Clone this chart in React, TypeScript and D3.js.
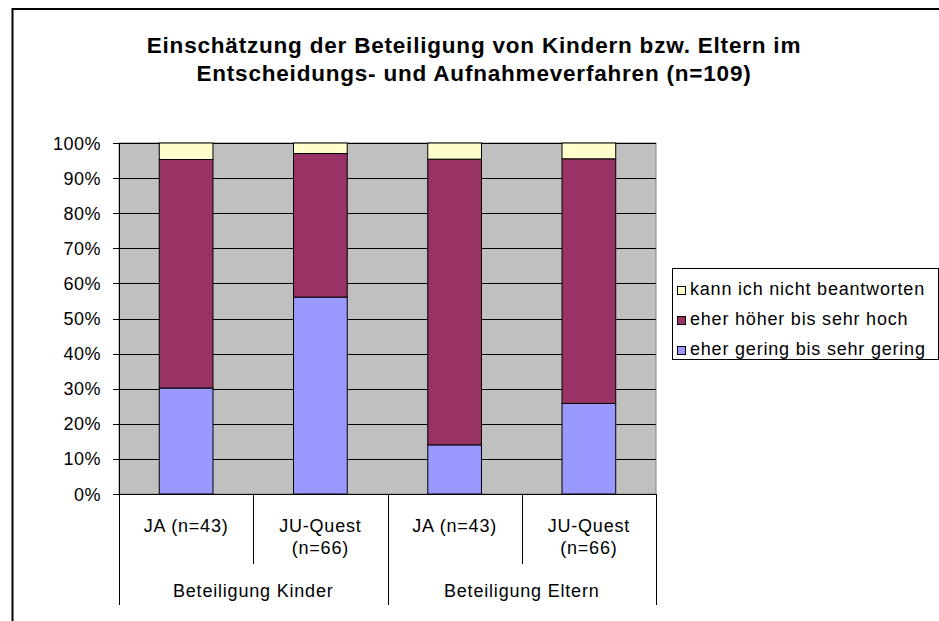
import React from "react";
import * as d3 from "d3";

const categories = ["JA (n=43)", "JU-Quest (n=66)", "JA (n=43)", "JU-Quest (n=66)"];
const categoryLines = [["JA (n=43)"], ["JU-Quest", "(n=66)"], ["JA (n=43)"], ["JU-Quest", "(n=66)"]];
const groups = ["Beteiligung Kinder", "Beteiligung Eltern"];
const seriesNames = ["eher gering bis sehr gering", "eher höher bis sehr hoch", "kann ich nicht beantworten"];
const geringValues = [30.2, 56.1, 14.0, 25.8];
const hoeherValues = [65.1, 40.9, 81.4, 69.7];
const kannNichtValues = [4.7, 3.0, 4.6, 4.5];
const seriesColors = ["#9999FF", "#993366", "#FFFFCC"];
const yTicks = [0, 10, 20, 30, 40, 50, 60, 70, 80, 90, 100];
const titleLines = [
  "Einschätzung der Beteiligung von Kindern bzw. Eltern im",
  "Entscheidungs- und Aufnahmeverfahren (n=109)",
];

const FONT = "'Liberation Sans', Arial, sans-serif";

export default function App() {
  const W = 939, H = 621;
  const left = 119, right = 656, top = 143, bottom = 494;
  const ids = categories.map((_, i) => String(i));
  const x = d3.scaleBand<string>().domain(ids).range([left, right]).paddingInner(0.6).paddingOuter(0.3);
  const y = d3.scaleLinear().domain([0, 100]).range([bottom, top]);
  const step = x.step();
  const series = [geringValues, hoeherValues, kannNichtValues];
  const table = ids.map((id, i) => ({ id, s0: series[0][i], s1: series[1][i], s2: series[2][i] }));
  const stacked = d3.stack<any>().keys(["s0", "s1", "s2"])(table);

  return (
    <svg width={W} height={H} style={{ position: "absolute", left: 0, top: 0, background: "#fff" }} fontFamily={FONT}>
      {/* outer chart border */}
      <path d={`M12.5,${H + 2} L12.5,9 L${W + 2},9`} fill="none" stroke="#000" strokeWidth={2} />
      {/* title */}
      {titleLines.map((t, i) => (
        <text key={i} x={474} y={53 + i * 28} textAnchor="middle" fontSize={22.5} fontWeight="bold" letterSpacing={0.8} fill="#000">
          {t}
        </text>
      ))}
      {/* plot background */}
      <rect x={left} y={top} width={right - left} height={bottom - top} fill="#C0C0C0" stroke="#808080" strokeWidth={1} />
      {/* gridlines */}
      {yTicks.map((t) => (
        <line key={t} x1={left - 6} x2={right} y1={Math.round(y(t)) + 0.5} y2={Math.round(y(t)) + 0.5} stroke="#000" strokeWidth={1} />
      ))}
      {/* bars */}
      {stacked.map((layer, si) =>
        layer.map((d, i) => {
          const x0 = x(ids[i])!;
          const y0 = y(d[1]);
          const y1 = y(d[0]);
          return (
            <rect key={`${si}-${i}`} x={x0} y={y0} width={x.bandwidth()} height={y1 - y0} fill={seriesColors[si]} stroke="#000" strokeWidth={1} />
          );
        })
      )}
      {/* y axis */}
      <line x1={left + 0.5} x2={left + 0.5} y1={top} y2={bottom} stroke="#000" />
      {yTicks.map((t) => (
        <text key={t} x={101} y={y(t) + 6.5} textAnchor="end" fontSize={18} letterSpacing={0.5} fill="#000">
          {t}%
        </text>
      ))}
      {/* x axis separators */}
      {ids.map((id, i) => {
        const xs = left + i * step;
        const isGroup = i % 2 === 0;
        return (
          <line key={id} x1={Math.round(xs) + 0.5} x2={Math.round(xs) + 0.5} y1={bottom} y2={isGroup ? 605 : 564} stroke="#000" />
        );
      })}
      <line x1={right + 0.5} x2={right + 0.5} y1={bottom} y2={605} stroke="#000" />
      {/* category labels */}
      {categoryLines.map((lines, i) =>
        lines.map((l, j) => (
          <text key={`${i}-${j}`} x={x(ids[i])! + x.bandwidth() / 2} y={532 + j * 22} textAnchor="middle" fontSize={18} letterSpacing={0.8} fill="#000">
            {l}
          </text>
        ))
      )}
      {groups.map((g, i) => (
        <text key={g} x={left + step * (2 * i + 1)} y={597} textAnchor="middle" fontSize={18} letterSpacing={0.8} fill="#000">
          {g}
        </text>
      ))}
      {/* legend */}
      <rect x={672.5} y={268.5} width={266} height={91} fill="#fff" stroke="#000" />
      {[2, 1, 0].map((si, k) => (
        <g key={si}>
          <rect x={677.5} y={286.5 + k * 30} width={8} height={8} fill={seriesColors[si]} stroke="#000" />
          <text x={690} y={295 + k * 30} fontSize={18} letterSpacing={0.8} fill="#000">
            {seriesNames[si]}
          </text>
        </g>
      ))}
    </svg>
  );
}
